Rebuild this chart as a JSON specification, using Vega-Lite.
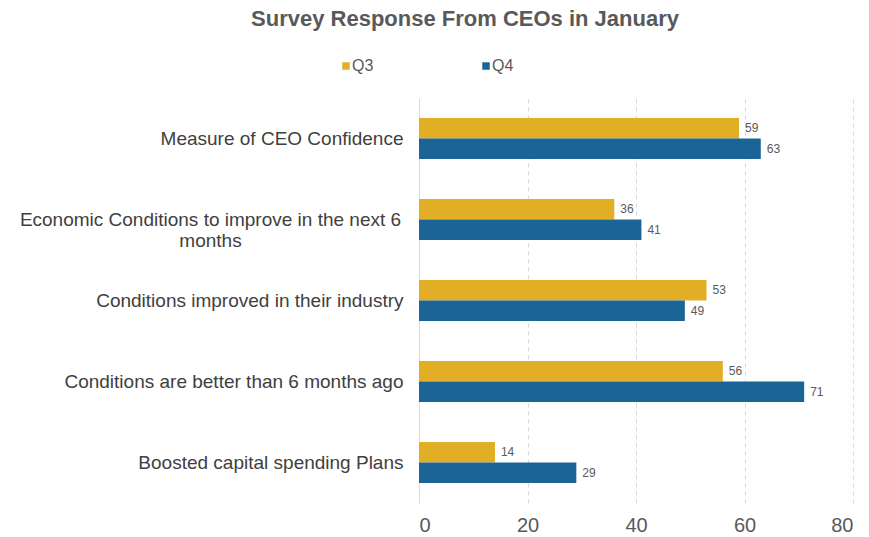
{
  "$schema": "https://vega.github.io/schema/vega-lite/v6.json",
  "autosize": {"type": "none"},
  "padding": {"left": 419, "top": 98, "right": 16, "bottom": 34},
  "width": 434,
  "height": 405,
  "background": "white",
  "title": {
    "text": "Survey Response From CEOs in January",
    "font": "Liberation Sans",
    "fontSize": 22,
    "fontWeight": "bold",
    "color": "#595959",
    "anchor": "middle",
    "dx": -171,
    "offset": 27
  },
  "config": {
    "font": "Liberation Sans",
    "view": {"stroke": null}
  },
  "data": {
    "values": [
      {"category": "Measure of CEO Confidence", "quarter": "Q3", "value": 59},
      {"category": "Measure of CEO Confidence", "quarter": "Q4", "value": 63},
      {"category": "Economic Conditions to improve in the next 6 months", "quarter": "Q3", "value": 36},
      {"category": "Economic Conditions to improve in the next 6 months", "quarter": "Q4", "value": 41},
      {"category": "Conditions improved in their industry", "quarter": "Q3", "value": 53},
      {"category": "Conditions improved in their industry", "quarter": "Q4", "value": 49},
      {"category": "Conditions are better than 6 months ago", "quarter": "Q3", "value": 56},
      {"category": "Conditions are better than 6 months ago", "quarter": "Q4", "value": 71},
      {"category": "Boosted capital spending Plans", "quarter": "Q3", "value": 14},
      {"category": "Boosted capital spending Plans", "quarter": "Q4", "value": 29}
    ]
  },
  "encoding": {
    "y": {
      "field": "category",
      "type": "nominal",
      "sort": null,
      "scale": {"paddingInner": 0, "paddingOuter": 0},
      "axis": {
        "title": null,
        "domain": false,
        "ticks": false,
        "labelFontSize": 19,
        "labelColor": "#404040",
        "labelLimit": 420,
        "labelPadding": {"condition": {"test": "indexof(datum.value, 'Economic') == 0", "value": 209}, "value": 16},
        "labelAlign": {"condition": {"test": "indexof(datum.value, 'Economic') == 0", "value": "center"}, "value": "right"},
        "labelExpr": "datum.value == 'Economic Conditions to improve in the next 6 months' ? ['Economic Conditions to improve in the next 6', 'months'] : datum.value",
        "labelLineHeight": 21
      }
    },
    "yOffset": {
      "field": "quarter",
      "type": "nominal",
      "scale": {"paddingInner": 0, "paddingOuter": 0.976}
    },
    "x": {
      "field": "value",
      "type": "quantitative",
      "scale": {"domain": [0, 80]},
      "axis": {
        "title": null,
        "values": [0, 20, 40, 60, 80],
        "domain": false,
        "ticks": false,
        "labelFontSize": 20,
        "labelColor": "#595959",
        "labelPadding": 12,
        "gridColor": "#d9d9d9",
        "gridDash": {"condition": {"test": "datum.value == 0", "value": []}, "value": [4, 4]},
        "gridWidth": 1
      }
    }
  },
  "layer": [
    {
      "mark": {"type": "bar"},
      "encoding": {
        "color": {
          "field": "quarter",
          "type": "nominal",
          "scale": {"domain": ["Q3", "Q4"], "range": ["#E2AE26", "#1A6496"]},
          "legend": {
            "title": null,
            "orient": "none",
            "direction": "horizontal",
            "legendX": -81,
            "legendY": -40,
            "symbolType": "square",
            "symbolSize": 56,
            "symbolStrokeWidth": 0,
            "labelFontSize": 16,
            "labelColor": "#595959",
            "labelOffset": -2,
            "columnPadding": 104
          }
        }
      }
    },
    {
      "mark": {"type": "text", "align": "left", "dx": 6, "fontSize": 12, "color": "#595959"},
      "encoding": {
        "text": {"field": "value", "type": "quantitative"}
      }
    }
  ]
}
